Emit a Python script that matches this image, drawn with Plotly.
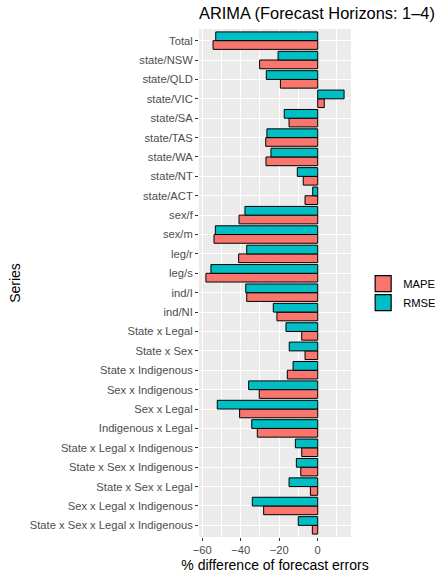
import plotly.graph_objects as go

series = ["Total", "state/NSW", "state/QLD", "state/VIC", "state/SA", "state/TAS",
          "state/WA", "state/NT", "state/ACT", "sex/f", "sex/m", "leg/r", "leg/s",
          "ind/I", "ind/NI", "State x Legal", "State x Sex", "State x Indigenous",
          "Sex x Indigenous", "Sex x Legal", "Indigenous x Legal",
          "State x Legal x Indigenous", "State x Sex x Indigenous",
          "State x Sex x Legal", "Sex x Legal x Indigenous",
          "State x Sex x Legal x Indigenous"]

mape = [-54.4, -30.2, -19.4, 3.4, -14.9, -27.0, -26.9, -7.5, -6.6, -40.9, -53.9,
        -41.1, -58.1, -36.9, -21.2, -8.3, -6.6, -15.8, -30.4, -40.6, -31.4,
        -8.3, -8.8, -3.8, -28.1, -2.8]
rmse = [-53.0, -20.6, -26.7, 13.7, -17.4, -26.4, -24.3, -10.6, -2.6, -37.8, -53.2,
        -36.9, -55.5, -37.4, -23.1, -16.5, -14.8, -12.8, -35.9, -52.2, -34.3,
        -11.6, -11.1, -14.9, -34.0, -10.1]

x_ticks = [-60, -40, -20, 0]
x_tick_labels = ["−60", "−40", "−20", "0"]

colors = {"MAPE": "#F8766D", "RMSE": "#00BFC4"}

fig = go.Figure()
for name, vals in [("MAPE", mape), ("RMSE", rmse)]:
    fig.add_trace(go.Bar(y=series, x=vals, orientation="h", name=name,
                         showlegend=False,
                         marker=dict(color=colors[name], line=dict(color="black", width=1))))
# legend keys (larger square swatches like ggplot)
for name in ["MAPE", "RMSE"]:
    fig.add_trace(go.Scatter(x=[None], y=[None], mode="markers", name=name,
                             marker=dict(symbol="square", size=16, color=colors[name],
                                         line=dict(color="black", width=1.2))))

font = "Liberation Sans, Arial, sans-serif"
fs = 11.2
fig.update_layout(
    width=441, height=573,
    margin=dict(l=199, r=90, t=29, b=36, autoexpand=False),
    paper_bgcolor="white", plot_bgcolor="#EBEBEB",
    barmode="group", bargap=0.1, bargroupgap=0,
    font=dict(family=font, color="black"),
    title=dict(text="ARIMA (Forecast Horizons: 1–4)", xref="paper", x=0, xanchor="left",
               y=1 - 13/573, yanchor="middle", font=dict(size=16.4, color="black")),
    legend=dict(x=1.08, xanchor="left", y=0.48, yanchor="middle",
                traceorder="normal", font=dict(size=fs, color="black"),
                bgcolor="rgba(0,0,0,0)", itemsizing="trace", tracegroupgap=0),
    xaxis=dict(range=[-61.7, 17.3], tickvals=x_ticks, ticktext=x_tick_labels,
               showgrid=True, gridcolor="white", gridwidth=1.1,
               minor=dict(dtick=10, tick0=0, showgrid=True, gridcolor="white", gridwidth=0.5),
               zeroline=False, ticks="outside", ticklen=3, tickcolor="#333333",
               tickfont=dict(size=fs, color="#4D4D4D"), showline=False,
               title=dict(text="% difference of forecast errors", font=dict(size=14), standoff=4)),
    yaxis=dict(categoryorder="array", categoryarray=series[::-1],
               range=[-0.6, len(series) - 0.4],
               showgrid=True, gridcolor="white", gridwidth=1.1, zeroline=False,
               ticks="outside", ticklen=3, tickcolor="#333333",
               tickfont=dict(size=fs, color="#4D4D4D"), showline=False,
               title=dict(text="Series", font=dict(size=14), standoff=5)),
)

fig.write_html("out.html", config={"displayModeBar": False},
               post_script="document.body.style.margin='0px';document.body.style.overflow='hidden';")
